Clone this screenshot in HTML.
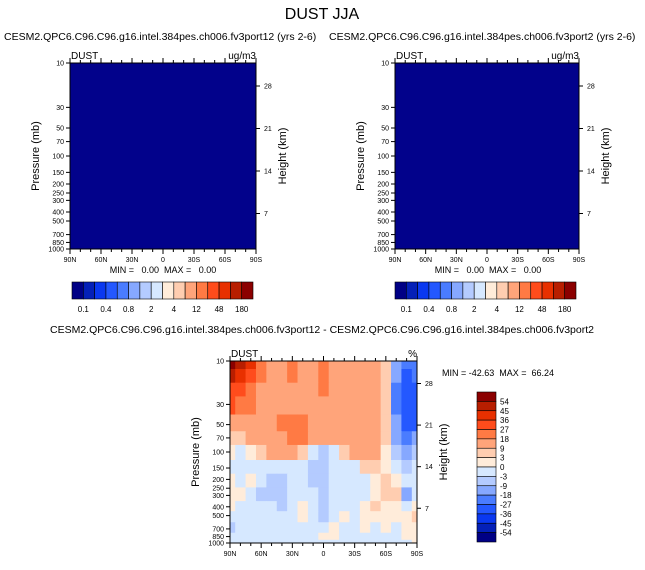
<!DOCTYPE html>
<html><head><meta charset="utf-8"><style>
body{margin:0;background:#fff;width:645px;height:565px;overflow:hidden}
svg text{font-family:"Liberation Sans",sans-serif;fill:#000;white-space:pre}
</style></head><body>
<svg id="fig" width="645" height="565" xmlns="http://www.w3.org/2000/svg">
<text x="322" y="19" font-size="16" text-anchor="middle">DUST JJA</text>
</svg>
<script>
const colors=['#000085','#0420b8','#0a38f0','#2458ff','#4a7cff','#86a8ff','#b4cbff','#d6e8ff','#ffecda','#ffcdb0','#ffa47a','#ff7a44','#ff4c1c','#e83000','#b81e00','#8b0000'];
const topLabels=['0.1','0.4','0.8','2','4','12','48','180'];
const diffLevels=[-54,-45,-36,-27,-18,-9,-3,0,3,9,18,27,36,45,54];
const diffLabels=['54','45','36','27','18','9','3','0','-3','-9','-18','-27','-36','-45','-54'];
const lats=[90,80,70,60,50,40,30,20,10,0,-10,-20,-30,-40,-50,-60,-70,-80,-90];
const plevs=[10,15,20,30,50,70,100,150,200,300,400,500,700,850,1000];
const pTicks=[10,30,50,70,100,150,200,250,300,400,500,700,850,1000];
const hTicks=[7,14,21,28];
const latTicks=['90N','60N','30N','0','30S','60S','90S'];
const diffVals=[
[60,50,40,20,15,15,20,15,15,20,15,15,15,15,15,5,-15,-25,-20],
[45,40,30,20,15,15,20,15,15,20,15,15,15,15,15,5,-18,-30,-25],
[35,30,25,15,15,15,15,12,15,20,15,15,15,15,15,5,-20,-32,-30],
[30,25,20,15,15,12,15,12,12,15,12,15,15,15,15,5,-20,-33,-32],
[15,15,12,12,15,18,25,20,12,12,12,12,15,15,15,5,-18,-30,-28],
[8,8,12,15,15,15,20,20,12,10,12,12,15,15,15,3,-12,-20,-15],
[1,-3,2,8,12,12,10,5,-3,-5,-3,8,12,12,12,2,-8,-10,-8],
[-2,-3,-2,-1,-2,-1,-2,-3,-5,-8,-3,-3,-2,5,8,2,-2,-4,-3],
[2,-1,1,-3,-5,-5,-3,-2,-5,-8,-2,-2,-3,-1,1,3,2,-3,-2],
[2,1,-2,-4,-5,-8,-3,-2,-3,-6,-2,-3,-2,-1,2,4,3,-10,-3],
[1,-2,-1,-3,-2,-6,-2,1,-2,-5,-1,-1,-2,1,3,2,1,-2,2],
[-2,-1,-1,-2,-1,-3,-1,1,-1,-5,-1,1,-1,2,1,2,1,2,3],
[-4,-2,-1,-3,-1,-2,-1,-2,-1,-3,2,-3,-1,1,-1,1,-2,1,2],
[-2,-1,-2,-1,-1,-2,-1,-1,-1,2,1,-2,-1,-1,-1,-2,-1,1,1],
[-2,-1,-1,-1,-1,-1,-1,-1,-1,-1,-1,-1,-1,-1,-1,-1,-1,-1,1]];
const svg=document.getElementById('fig');
const NS='http://www.w3.org/2000/svg';
function el(tag,attrs,parent,txt){const e=document.createElementNS(NS,tag);for(const k in attrs)e.setAttribute(k,attrs[k]);if(txt!==undefined)e.textContent=txt;(parent||svg).appendChild(e);return e;}
function colorFor(v){let i=0;for(const l of diffLevels)if(v>=l)i++;return colors[i];}
function panel(x0,y0,x1,y1,name,diff,unit){
  const g=el('g',{},svg);
  const xs=lat=>x0+(90-lat)/180*(x1-x0);
  const ys=p=>y0+Math.log10(p/10)/2*(y1-y0);
  if(!diff){const r=el('rect',{x:x0,y:y0,width:x1-x0,height:y1-y0,fill:'#02028b'},g);}
  else{
    for(let i=0;i<plevs.length;i++)for(let j=0;j<lats.length;j++){
      const ya=i==0?y0:(ys(plevs[i-1])+ys(plevs[i]))/2, yb=i==plevs.length-1?y1:(ys(plevs[i])+ys(plevs[i+1]))/2;
      const xa=j==0?x0:(xs(lats[j-1])+xs(lats[j]))/2, xb=j==lats.length-1?x1:(xs(lats[j])+xs(lats[j+1]))/2;
      const c=el('rect',{x:xa,y:ya,width:xb-xa+0.5,height:yb-ya+0.5,fill:colorFor(diffVals[i][j])},g);
      
      
    }
  }
  el('rect',{x:x0,y:y0,width:x1-x0,height:y1-y0,fill:'none',stroke:'#000','stroke-width':1},g);
  for(let lat=90;lat>=-90;lat-=10){const x=xs(lat),L=lat%30==0?5:3;
    el('line',{x1:x,y1:y0,x2:x,y2:y0-L,stroke:'#000'},g);el('line',{x1:x,y1:y1,x2:x,y2:y1+L,stroke:'#000'},g);}
  latTicks.forEach((t,k)=>{const x=x0+k/6*(x1-x0);const tl=el('text',{x:x,y:y1+13,'font-size':7,'text-anchor':'middle'},g,t);});
  pTicks.forEach(p=>{const y=ys(p);el('line',{x1:x0,y1:y,x2:x0-4,y2:y,stroke:'#000'},g);
    const tl=el('text',{x:x0-6,y:y+2.5,'font-size':7,'text-anchor':'end'},g,String(p));});
  const hs=(y1-y0)/186*42.5;
  hTicks.forEach((h,k)=>{const y=y0+(86-63)/186*(y1-y0)+(3-k)*hs;el('line',{x1:x1,y1:y,x2:x1+4,y2:y,stroke:'#000'},g);
    const tl=el('text',{x:x1+8,y:y+2.5,'font-size':7},g,String(h));});
  const yl=el('text',{x:0,y:0,'font-size':11,'text-anchor':'middle',transform:`translate(${x0-31},${(y0+y1)/2}) rotate(-90)`},g,'Pressure (mb)');
  const yr=el('text',{x:0,y:0,'font-size':11,'text-anchor':'middle',transform:`translate(${x1+30},${(y0+y1)/2}) rotate(-90)`},g,'Height (km)');
  const a=el('text',{x:x0+1,y:y0-4,'font-size':10},g,'DUST');
  const u=el('text',{x:x1,y:y0-4,'font-size':10,'text-anchor':'end'},g,unit);
}
function hbar(x0,y0,w,h,name){const g=el('g',{},svg);
  const bw=w/colors.length;colors.forEach((c,k)=>{const r=el('rect',{x:x0+k*bw,y:y0,width:bw,height:h,fill:c,stroke:'#000','stroke-width':0.6},g);});
  topLabels.forEach((t,k)=>{const tl=el('text',{x:x0+(2*k+1)*bw,y:y0+h+13,'font-size':8,'text-anchor':'middle'},g,t);});}
function vbar(x0,y0,w,h,name){const g=el('g',{},svg);
  const bh=h/colors.length;colors.slice().reverse().forEach((c,k)=>{const r=el('rect',{x:x0,y:y0+k*bh,width:w,height:bh,fill:c,stroke:'#000','stroke-width':0.6},g);});
  diffLabels.forEach((t,k)=>{const tl=el('text',{x:x0+w+4,y:y0+(k+1)*bh+3,'font-size':8},g,t);});}
function txt(x,y,s,t,name,anchor){const e=el('text',{x:x,y:y,'font-size':s,'text-anchor':anchor||'start'},svg,t);}
txt(4,40,10.5,'CESM2.QPC6.C96.C96.g16.intel.384pes.ch006.fv3port12 (yrs 2-6)','left-panel-title');
txt(329,40,10.5,'CESM2.QPC6.C96.C96.g16.intel.384pes.ch006.fv3port2 (yrs 2-6)','right-panel-title');
txt(322,333,10.5,'CESM2.QPC6.C96.C96.g16.intel.384pes.ch006.fv3port12 - CESM2.QPC6.C96.C96.g16.intel.384pes.ch006.fv3port2','diff-panel-title','middle');
panel(70,63,256,249,'left-panel',false,'ug/m3');
panel(395,63,579,249,'right-panel',false,'ug/m3');
panel(230,361,417,543,'diff-panel',true,'%');
txt(163,273,9,'MIN =   0.00  MAX =   0.00','left-minmax','middle');
txt(488,273,9,'MIN =   0.00  MAX =   0.00','right-minmax','middle');
txt(498,376,9,'MIN = -42.63  MAX =  66.24','diff-minmax','middle');
hbar(72,282,181,17,'left-colorbar');
hbar(395,282,181,17,'right-colorbar');
vbar(477,392,19,150,'diff-colorbar');
</script>
</body></html>
